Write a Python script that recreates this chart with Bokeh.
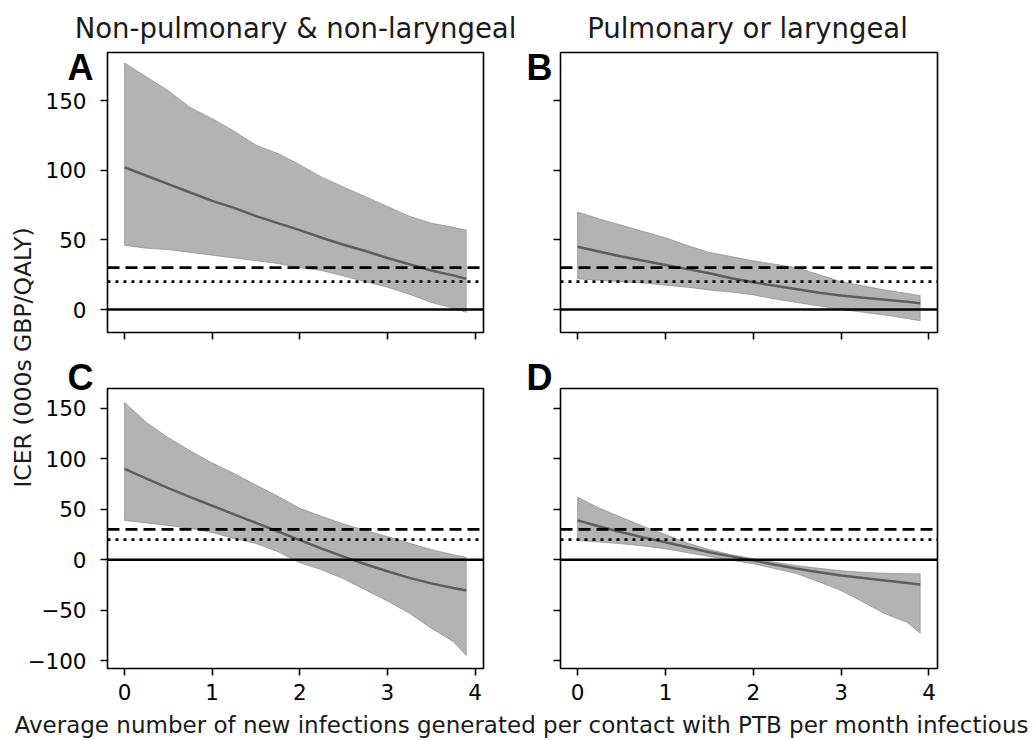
import math
from bokeh.plotting import figure
from bokeh.layouts import row, column
from bokeh.models import Span, Label, FixedTicker, CustomJSTickFormatter, Range1d
from bokeh.embed import file_html
from bokeh.resources import INLINE

# ---------------- data ----------------
x_vals = [0, 0.25, 0.5, 0.75, 1.0, 1.25, 1.5, 1.75, 2.0, 2.25, 2.5, 2.75, 3.0, 3.25, 3.5, 3.75, 3.9]

a_upper = [177, 167, 157, 145, 137, 128, 118, 112, 104, 95, 88, 81, 74, 67, 62, 59, 57]
a_lower = [46, 44, 43, 41, 39, 37, 35, 33, 30, 28, 24, 20, 16, 11, 5, 1, -2]
a_mean = [102, 96, 90, 84, 78, 73, 67, 62, 57, 51.5, 46.5, 42, 37, 32.5, 28, 24.5, 22]

b_upper = [70, 65, 60.5, 56, 51.5, 46, 41, 38, 35, 32.5, 30, 25, 20, 17, 14, 11.5, 10]
b_lower = [22, 21, 20, 19, 17.5, 16, 14, 12.5, 10.5, 7.5, 5, 2.5, 0, -2, -4, -6.5, -8]
b_mean = [45, 41.5, 38, 35, 32, 29, 26, 22.5, 19.5, 17, 14.5, 12, 10, 8.5, 7, 5.5, 4.5]

c_upper = [156, 136, 121, 108, 96, 85.5, 74, 63, 51, 43, 35.5, 29, 23, 16.5, 10, 5, 2.5]
c_lower = [39, 36.5, 34, 31, 27, 21, 16, 8, -3, -10, -19, -30, -41, -53, -68, -81, -95]
c_mean = [90, 80.5, 71, 62, 53.5, 45, 36.5, 28, 19.5, 11, 3, -4.5, -11.5, -18, -23.5, -28, -30.6]

d_upper = [62, 51, 42, 33, 25, 16.5, 10, 5, 1, -2.5, -6, -8.5, -11, -12.5, -13.4, -14, -14]
d_lower = [19, 17.5, 15.8, 13.5, 10.8, 7, 3.2, -0.5, -4, -9, -14, -22, -30.6, -42, -53.7, -62, -73]
d_mean = [39, 33, 27.3, 22, 17.4, 12.3, 7.4, 3.3, -0.8, -5, -9, -12.5, -15.7, -18.2, -20.6, -23, -24.6]

thresholds = {"upper_wtp": 30, "lower_wtp": 20, "zero": 0}

x_ticks = [0, 1, 2, 3, 4]
y_ticks_top = [0, 50, 100, 150]
y_ticks_bottom = [-100, -50, 0, 50, 100, 150]

col_titles = ["Non-pulmonary & non-laryngeal", "Pulmonary or laryngeal"]
panel_letters = ["A", "B", "C", "D"]
y_title = "ICER (000s GBP/QALY)"
x_title = "Average number of new infections generated per contact with PTB per month infectious"

# ---------------- styling ----------------
FONT = "DejaVu Sans"
TICK_SIZE = "21.5px"
X_RANGE = (-0.195, 4.097)
Y_RANGE_TOP = (-16.5, 184.5)
Y_RANGE_BOTTOM = (-107.9, 169.8)
BAND = "#808080"
MEAN = "#5e5e5e"
TOTAL_W = 1034
TOTAL_H = 738

blank = CustomJSTickFormatter(code="return ''")


def make_panel(width, height, mb_left, mb_right, mb_top, mb_bottom, y_range, y_ticks,
               upper, lower, mean, show_x_labels, show_y_labels):
    p = figure(width=width, height=height, title=None, toolbar_location=None,
               output_backend="svg", x_range=Range1d(*X_RANGE), y_range=Range1d(*y_range),
               min_border_left=mb_left, min_border_right=mb_right,
               min_border_top=mb_top, min_border_bottom=mb_bottom)
    p.background_fill_color = "white"
    p.border_fill_color = "white"
    p.xgrid.visible = False
    p.ygrid.visible = False
    p.outline_line_color = "black"
    p.outline_line_width = 1.6
    p.outline_line_alpha = 1.0

    xs = list(x_vals) + list(x_vals)[::-1]
    ys = list(upper) + list(lower)[::-1]
    p.patch(xs, ys, fill_color=BAND, fill_alpha=0.6, line_color=BAND, line_alpha=0.6, line_width=1)
    p.line(x_vals, mean, line_color=MEAN, line_width=2.5)

    p.add_layout(Span(location=thresholds["upper_wtp"], dimension="width", line_color="black",
                      line_width=2.8, line_dash="12 6"))
    p.add_layout(Span(location=thresholds["lower_wtp"], dimension="width", line_color="black",
                      line_width=2.8, line_dash="3 5"))
    p.add_layout(Span(location=thresholds["zero"], dimension="width", line_color="black",
                      line_width=2.6))

    for ax in (p.xaxis[0], p.yaxis[0]):
        ax.axis_line_color = None
        ax.major_tick_line_color = "black"
        ax.major_tick_line_width = 1.6
        ax.major_tick_out = 7
        ax.major_tick_in = 0
        ax.minor_tick_line_color = None
        ax.major_label_text_font = FONT
        ax.major_label_text_font_size = TICK_SIZE
        ax.major_label_text_color = "black"

    p.xaxis.ticker = FixedTicker(ticks=x_ticks)
    p.yaxis.ticker = FixedTicker(ticks=y_ticks)
    p.xaxis.major_label_standoff = 8
    p.yaxis.major_label_standoff = 14
    p.yaxis.major_label_overrides = {t: ("\u2212" + str(abs(t)) if t < 0 else str(t)) for t in y_ticks}

    if not show_x_labels:
        p.xaxis.formatter = blank
        p.xaxis.major_label_text_font_size = "0px"
        p.xaxis.major_label_standoff = 0
    if not show_y_labels:
        p.yaxis.formatter = blank
        p.yaxis.major_label_overrides = {}
        p.yaxis.major_label_text_font_size = "0px"
        p.yaxis.major_label_standoff = 0
    return p


# panels: frames 376/377 x 280 at (107|560, 52|388)
pA = make_panel(512, 352, 107, 29, 52, 20, Y_RANGE_TOP, y_ticks_top, a_upper, a_lower, a_mean, False, True)
pB = make_panel(522, 352, 48, 97, 52, 20, Y_RANGE_TOP, y_ticks_top, b_upper, b_lower, b_mean, False, False)
pC = make_panel(512, TOTAL_H - 352, 107, 29, 36, TOTAL_H - 352 - 36 - 280, Y_RANGE_BOTTOM, y_ticks_bottom,
                c_upper, c_lower, c_mean, True, True)
pD = make_panel(522, TOTAL_H - 352, 48, 97, 36, TOTAL_H - 352 - 36 - 280, Y_RANGE_BOTTOM, y_ticks_bottom,
                d_upper, d_lower, d_mean, True, False)

# ---------------- text layer laid over the panels ----------------
overlay = figure(width=TOTAL_W, height=TOTAL_H, title=None, toolbar_location=None,
                 output_backend="svg", x_range=Range1d(0, 1), y_range=Range1d(0, 1),
                 x_axis_type=None, y_axis_type=None,
                 min_border_left=0, min_border_right=0, min_border_top=0, min_border_bottom=0,
                 margin=(-TOTAL_H, 0, 0, 0))
overlay.outline_line_color = None
overlay.xgrid.visible = False
overlay.ygrid.visible = False
overlay.background_fill_color = None
overlay.border_fill_color = None


def put(txt, x, y_top, size, font=FONT, bold=False, align="left", angle=0.0, color="#1a1a1a"):
    overlay.add_layout(Label(x=x, y=TOTAL_H - y_top, x_units="screen", y_units="screen", text=txt,
                             text_font=font, text_font_style="bold" if bold else "normal",
                             text_font_size=size, text_color=color, text_align=align,
                             text_baseline="alphabetic", angle=angle, angle_units="rad"))


put(col_titles[0], 295, 27, "27.5px", align="center")
put(col_titles[1], 747, 27, "27.5px", align="center")
put(panel_letters[0], 67, 67, "36px", font="Liberation Sans", bold=True, color="black")
put(panel_letters[1], 526, 67, "36px", font="Liberation Sans", bold=True, color="black")
put(panel_letters[2], 67, 377, "36px", font="Liberation Sans", bold=True, color="black")
put(panel_letters[3], 526, 377, "36px", font="Liberation Sans", bold=True, color="black")
put(y_title, 22, 357, "23.5px", align="center", angle=math.pi / 2)
put(x_title, 521, 724, "23px", align="center")

panels = column(row(pA, pB), row(pC, pD))
layout = column(panels, overlay)

open("out.html", "w").write(file_html(layout, INLINE))
